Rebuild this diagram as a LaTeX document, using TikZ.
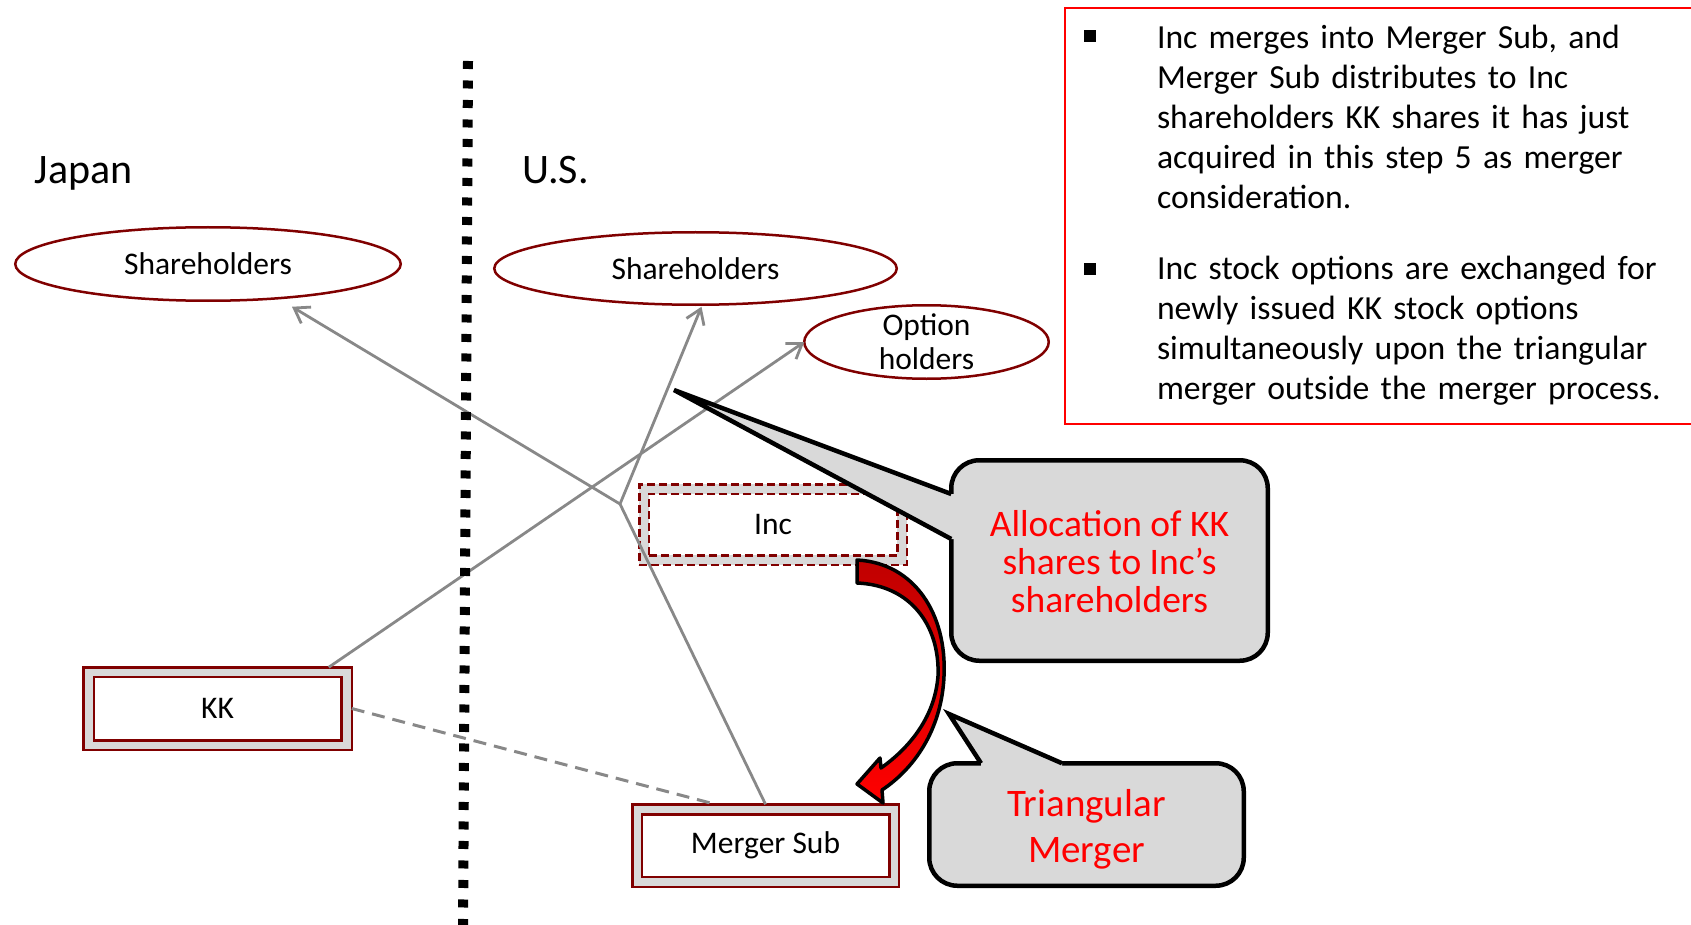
\documentclass[tikz,border=0pt]{standalone}
\usepackage{fontspec}
\setmainfont{Carlito}
\usetikzlibrary{arrows.meta,shapes.geometric,calc}
\definecolor{maroonline}{RGB}{128,0,0}
\definecolor{panelgray}{RGB}{217,217,217}
\definecolor{linkgray}{RGB}{136,136,136}
\definecolor{arrowdark}{RGB}{192,0,0}
\definecolor{notered}{RGB}{255,0,0}

\begin{document}
\begin{tikzpicture}[x=1pt,y=-1pt,
  every node/.style={inner sep=0pt, outer sep=0pt},
  region/.style={font=\fontsize{42}{46}\selectfont},
  ell/.style={ellipse, draw=maroonline, line width=2.5pt, fill=white,
    font=\fontsize{31.5}{34}\selectfont},
  lbl/.style={align=center, font=\fontsize{31.5}{34}\selectfont},
  outerbox/.style={rectangle, draw=maroonline, line width=2.5pt, fill=panelgray},
  innerbox/.style={rectangle, draw=maroonline, line width=2.5pt, fill=white,
    font=\fontsize{31.5}{34}\selectfont},
  dashedbox/.style={dash pattern=on 8pt off 4pt},
  conn/.style={draw=linkgray, line width=2.8pt,
    -{Straight Barb[length=14pt,width=19pt]}},
  dashlink/.style={draw=linkgray, line width=3pt, dash pattern=on 13pt off 8pt},
  divider/.style={draw=black, line width=10pt, dash pattern=on 8pt off 11.5pt},
  callout/.style={rectangle, draw=black, line width=4.5pt, fill=panelgray,
    rounded corners=28pt},
  callouttext/.style={text=notered, align=center},
  pointerfill/.style={fill=panelgray},
  pointeredge/.style={draw=black, line width=4.5pt, line join=miter},
  bulletsq/.style={rectangle, fill=black, minimum size=12pt},
  notes/.style={anchor=north west, text width=530pt, align=left,
    font=\fontsize{33.7}{40}\selectfont},
]
\useasboundingbox (0,0) rectangle (1691,925);

% region headings
\node[region] (japan) at (83.5,173) {Japan};
\node[region] (us) at (555.5,170) {U.S.};

% shareholder groups
\node[ell, minimum width=385.5pt, minimum height=73.5pt] (jsh) at (208,264) {Shareholders};
\node[ell, minimum width=402.5pt, minimum height=72.5pt] (ussh) at (695.5,268.5) {Shareholders};
\node[ell, minimum width=244.5pt, minimum height=73.5pt] (opt) at (926.5,342) {};
\node[lbl] (optlbl) at (opt) {Option\\holders};

% entities
\node[outerbox, minimum width=268.5pt, minimum height=82.5pt] (kk) at (217.5,708.5) {};
\node[innerbox, minimum width=247.5pt, minimum height=63.5pt] (kkin) at (kk) {KK};

\node[outerbox, dashedbox, minimum width=267.5pt, minimum height=80.5pt] (inc) at (773,524.5) {};
\node[innerbox, dashedbox, minimum width=248.5pt, minimum height=61.5pt] (incin) at (inc) {Inc};

\node[outerbox, minimum width=266.5pt, minimum height=82.5pt] (ms) at (765.5,845.5) {};
\node[innerbox, minimum width=247.5pt, minimum height=62.5pt] (msin) at (ms) {Merger Sub};

% ownership links
\coordinate (J) at (620,504);
\draw[dashlink] (kk.east) -- ([xshift=83pt]ms.north west);
\draw[conn] ([xshift=-23pt]kk.north east) -- (opt.west);
\draw[conn] (ms.north) -- (J) -- ($(jsh.south)+(84,6)$);
\draw[conn] (J) -- ($(ussh.south)+(6,2)$);

% border between Japan and the U.S.
\coordinate (divtop) at (468,61);
\coordinate (divbot) at (463,932);
\draw[divider] (divtop) -- (divbot);

% curved merger arrow from Inc down to Merger Sub
\draw[line width=3.5pt, line join=round, draw=black, top color=arrowdark, bottom color=red]
  (857,560) .. controls (915,563) and (947,615) .. (944,676)
  .. controls (942,725) and (918,766) .. (882,790)
  -- (883,803) -- (857,784) -- (880,758) -- (881,768)
  .. controls (912,746) and (935,715) .. (938,676)
  .. controls (940,625) and (910,585) .. (857,583) -- cycle;

% callout: allocation
\node[callout, minimum width=316.5pt, minimum height=200.5pt] (callA) at (1109.5,560.5) {};
\coordinate (tipA) at (674,390);
\fill[pointerfill] ($(callA.west)+(0,-66.5)$) -- (tipA) -- ($(callA.west)+(0,-21.5)$)
  -- ($(callA.west)+(6,-21.5)$) -- ($(callA.west)+(6,-66.5)$) -- cycle;
\draw[pointeredge] ($(callA.west)+(0,-66.5)$) -- (tipA) -- ($(callA.west)+(0,-21.5)$);
\node[callouttext, font=\fontsize{37.5}{38}\selectfont] (callAtext)
  at ($(callA.center)+(0,1.5)$) {Allocation of KK\\shares to Inc's\\shareholders};

% callout: triangular merger
\node[callout, minimum width=314.5pt, minimum height=122.5pt] (callB) at (1086.5,824.5) {};
\coordinate (tipB) at (949,714);
\fill[pointerfill] ($(callB.north)+(-105.5,0)$) -- (tipB) -- ($(callB.north)+(-24.5,0)$)
  -- ($(callB.north)+(-24.5,6)$) -- ($(callB.north)+(-105.5,6)$) -- cycle;
\draw[pointeredge] ($(callB.north)+(-105.5,0)$) -- (tipB) -- ($(callB.north)+(-24.5,0)$);
\node[callouttext, font=\fontsize{39}{46}\selectfont] (callBtext)
  at ($(callB.center)+(0,4.5)$) {Triangular\\Merger};

% notes panel
\draw[draw=notered, line width=2.5pt] (1065,8) rectangle (1700,424);
\node[bulletsq] (bulA) at (1090,36) {};
\node[bulletsq] (bulB) at (1090,269) {};
\node[notes] (noteA) at (1157,21) {\strut Inc merges into Merger Sub, and\\
  Merger Sub distributes to Inc\\
  shareholders KK shares it has just\\
  acquired in this step 5 as merger\\
  consideration.};
\node[notes] (noteB) at (1157,252) {\strut Inc stock options are exchanged for\\
  newly issued KK stock options\\
  simultaneously upon the triangular\\
  merger outside the merger process.};
\end{tikzpicture}
\end{document}
